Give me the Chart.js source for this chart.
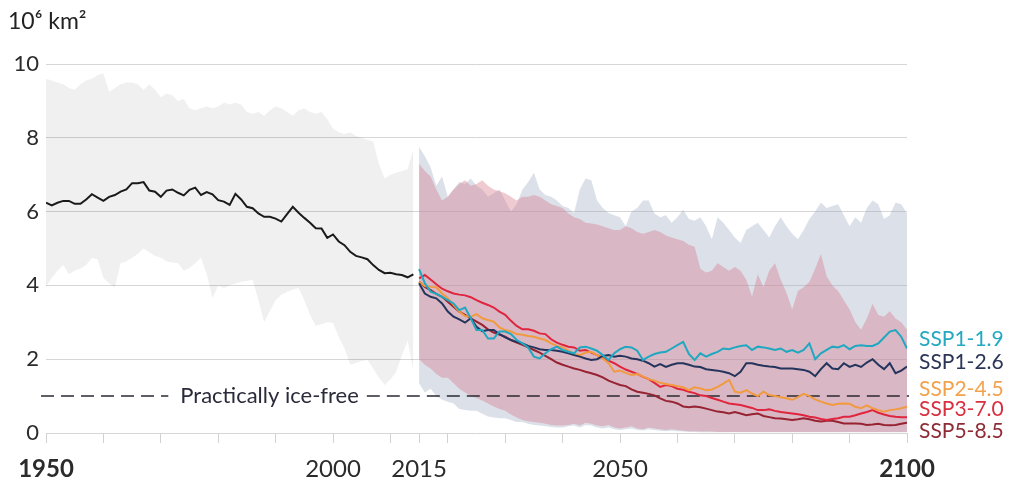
<!DOCTYPE html>
<html><head><meta charset="utf-8">
<script src="https://cdn.jsdelivr.net/npm/chart.js@4.4.0/dist/chart.umd.min.js"></script>
<style>html,body{margin:0;padding:0;background:#fff;}#wrap{width:1013px;height:484px;}</style>
</head><body><div id="wrap"><canvas id="c" width="1013" height="484"></canvas></div>
<script>
// ---- categories ----
const histYears = []; for (let y = 1950; y <= 2014; y++) histYears.push(y);
const projYears = []; for (let y = 2015; y <= 2100; y++) projYears.push(y);
const xTickYears = [1950,1960,1970,1980,1990,2000,2010,2015,2020,2030,2040,2050,2060,2070,2080,2090,2100];
const xLabelYears = [1950,2000,2015,2050,2100];
const xBoldYears = [1950,2100];
const yTicks = [0,2,4,6,8,10];
const unitLabel = '10\u2076 km\u00B2';
const iceFreeValue = 1;
const iceFreeText = 'Practically ice-free';

// ---- historical (1950-2014) ----
const histMean = [6.24,6.17,6.24,6.29,6.29,6.21,6.21,6.33,6.47,6.38,
 6.29,6.40,6.45,6.54,6.60,6.77,6.77,6.80,6.57,6.54,
 6.40,6.57,6.60,6.51,6.44,6.59,6.65,6.45,6.53,6.47,
 6.31,6.27,6.18,6.48,6.33,6.13,6.09,5.95,5.86,5.86,
 5.81,5.73,5.93,6.13,5.97,5.83,5.70,5.55,5.54,5.29,
 5.38,5.19,5.09,4.91,4.80,4.76,4.71,4.55,4.42,4.33,
 4.34,4.30,4.28,4.22,4.30];
const histUpper = [9.6,9.55,9.5,9.45,9.35,9.3,9.45,9.55,9.6,9.7,
 9.75,9.25,9.35,9.45,9.5,9.5,9.45,9.3,9.45,9.3,
 9.1,9.2,9.15,9.0,9.05,8.8,8.75,8.8,8.85,8.8,
 8.85,8.95,8.9,8.95,8.9,8.7,8.65,8.7,8.6,8.75,
 8.85,8.8,8.7,8.6,8.75,8.8,8.7,8.65,8.7,8.5,
 8.25,8.15,8.1,8.15,8.05,8.0,7.95,7.9,7.3,6.9,
 7.0,7.05,7.1,7.15,7.7];
const histLower = [3.96,4.2,4.4,4.55,4.3,4.4,4.45,4.55,4.75,4.7,
 4.2,4.05,3.95,4.6,4.65,4.75,4.85,5.0,4.9,4.8,
 4.75,4.65,4.62,4.6,4.4,4.47,4.6,4.75,4.3,3.65,
 4.0,3.93,4.0,4.05,4.1,4.12,4.15,3.6,3.0,3.3,
 3.6,3.75,3.82,3.88,3.93,3.6,3.2,2.9,2.95,3.0,
 2.98,2.6,2.3,1.85,1.9,1.95,1.98,1.75,1.5,1.3,
 1.45,1.65,2.1,2.5,1.7];

// ---- projections (2015-2100) ----
const ssp119 = [4.44,4.06,3.83,3.77,3.69,3.60,3.51,3.33,3.40,3.11,
 2.79,2.79,2.56,2.56,2.75,2.75,2.68,2.52,2.43,2.32,
 2.07,2.02,2.16,2.27,2.34,2.25,2.20,2.16,2.32,2.34,
 2.29,2.23,2.11,1.98,2.16,2.27,2.34,2.32,2.23,1.98,
 2.07,2.14,2.18,2.20,2.29,2.38,2.47,2.14,1.98,2.16,
 2.07,2.14,2.20,2.29,2.27,2.32,2.36,2.38,2.25,2.34,
 2.32,2.29,2.25,2.29,2.20,2.25,2.18,2.25,2.43,2.00,
 2.16,2.25,2.34,2.32,2.38,2.27,2.36,2.38,2.36,2.36,
 2.43,2.59,2.75,2.79,2.61,2.29];
const ssp126 = [4.06,3.78,3.69,3.65,3.51,3.29,3.15,3.08,2.99,3.11,
 2.88,2.76,2.79,2.79,2.68,2.59,2.52,2.47,2.43,2.36,
 2.32,2.27,2.25,2.25,2.23,2.20,2.16,2.11,2.07,2.02,
 1.98,2.00,2.09,2.11,2.07,2.09,2.07,2.02,2.00,1.96,
 1.89,1.80,1.87,1.79,1.85,1.89,1.89,1.85,1.80,1.79,
 1.73,1.71,1.69,1.66,1.62,1.54,1.66,1.89,1.89,1.85,
 1.82,1.80,1.79,1.75,1.75,1.75,1.73,1.71,1.66,1.54,
 1.73,1.89,1.75,1.73,1.89,1.79,1.85,1.79,1.91,2.00,
 1.85,1.73,1.89,1.62,1.69,1.80];
const ssp245 = [4.10,3.98,3.96,3.95,3.78,3.65,3.47,3.29,3.17,3.15,
 3.22,3.11,3.06,3.02,2.86,2.79,2.75,2.68,2.66,2.63,
 2.61,2.56,2.52,2.43,2.36,2.32,2.23,2.14,2.11,2.18,
 2.20,2.11,2.02,1.89,1.66,1.69,1.63,1.57,1.60,1.53,
 1.46,1.42,1.36,1.33,1.30,1.27,1.24,1.16,1.24,1.21,
 1.16,1.18,1.25,1.34,1.44,1.12,1.09,1.16,1.07,1.00,
 1.12,1.03,1.00,0.97,0.94,0.90,0.97,1.06,1.00,0.91,
 0.85,0.80,0.76,0.79,0.80,0.79,0.71,0.67,0.75,0.67,
 0.62,0.58,0.62,0.64,0.67,0.71];
const ssp370 = [4.19,4.28,4.16,4.03,3.91,3.84,3.78,3.75,3.73,3.68,
 3.60,3.53,3.47,3.40,3.29,3.20,3.04,2.90,2.81,2.81,
 2.77,2.70,2.68,2.54,2.45,2.39,2.34,2.32,2.23,2.25,
 2.18,2.11,2.04,1.96,1.89,1.80,1.72,1.66,1.60,1.52,
 1.46,1.36,1.25,1.30,1.27,1.20,1.17,1.12,1.08,1.02,
 1.00,0.95,0.90,0.85,0.80,0.78,0.76,0.72,0.68,0.62,
 0.62,0.64,0.60,0.57,0.55,0.53,0.51,0.48,0.44,0.42,
 0.38,0.35,0.38,0.40,0.44,0.44,0.48,0.53,0.57,0.62,
 0.55,0.50,0.46,0.44,0.43,0.43];
const ssp585 = [4.10,3.96,3.87,3.77,3.69,3.56,3.42,3.29,3.20,3.11,
 3.02,2.93,2.81,2.72,2.67,2.61,2.52,2.45,2.39,2.32,
 2.25,2.18,2.09,2.00,1.91,1.85,1.80,1.75,1.71,1.66,
 1.62,1.57,1.51,1.42,1.36,1.30,1.27,1.18,1.12,1.09,
 1.06,1.02,0.94,0.87,0.85,0.80,0.72,0.70,0.72,0.70,
 0.66,0.62,0.58,0.56,0.53,0.57,0.53,0.48,0.51,0.53,
 0.46,0.43,0.40,0.39,0.37,0.35,0.37,0.40,0.37,0.33,
 0.31,0.33,0.33,0.30,0.26,0.26,0.26,0.25,0.22,0.23,
 0.25,0.22,0.21,0.22,0.25,0.28];
// low-emission range (SSP1-2.6)
const lowUpper = [7.75,7.5,7.2,6.7,6.95,6.4,6.6,6.8,6.75,6.9,
 6.7,6.6,6.4,6.5,6.6,6.3,6.0,6.2,6.6,6.8,
 7.05,6.6,6.45,6.4,6.3,6.15,6.1,5.96,6.6,6.9,
 6.85,6.3,6.1,5.96,5.9,5.85,5.6,6.0,6.1,6.3,
 6.3,5.95,5.85,5.9,5.7,5.85,6.05,5.8,5.75,5.85,
 5.6,5.25,5.85,5.7,5.5,5.3,5.15,5.5,5.6,5.7,
 5.5,5.3,5.6,5.85,5.6,5.4,5.25,5.5,5.8,6.0,
 6.25,6.1,6.15,6.2,5.9,5.6,5.85,5.7,6.1,6.3,
 6.2,5.8,5.9,6.25,6.2,5.95];
const lowLower = [1.35,1.1,1.2,1.0,0.9,0.85,0.8,0.65,0.62,0.6,
 0.6,0.52,0.45,0.42,0.4,0.4,0.35,0.3,0.3,0.25,
 0.22,0.2,0.18,0.16,0.15,0.15,0.18,0.2,0.15,0.22,
 0.2,0.15,0.12,0.15,0.1,0.08,0.1,0.12,0.08,0.07,
 0.1,0.08,0.06,0.05,0.06,0.05,0.04,0.03,0.03,0.02,
 0.02,0.02,0.02,0.02,0.02,0.02,0.02,0.02,0.02,0.02,
 0.02,0.02,0.02,0.02,0.02,0.02,0.02,0.02,0.02,0.02,
 0.02,0.02,0.02,0.02,0.02,0.02,0.02,0.02,0.02,0.02,
 0.02,0.02,0.02,0.02,0.02,0.02];
// high-emission range (SSP3-7.0)
const highUpper = [7.3,7.1,6.95,6.6,6.3,6.4,6.6,6.75,6.85,6.7,
 6.75,6.85,6.7,6.6,6.55,6.5,6.4,6.3,6.4,6.4,
 6.45,6.4,6.3,6.2,6.15,6.1,5.95,5.85,5.8,5.7,
 5.68,5.65,5.6,5.55,5.5,5.5,5.6,5.55,5.45,5.4,
 5.45,5.5,5.45,5.35,5.3,5.25,5.2,5.1,5.05,4.45,
 4.35,4.4,4.6,4.5,4.4,4.5,4.4,4.15,3.7,4.3,
 3.95,4.4,4.6,4.15,3.8,3.35,3.85,3.95,4.1,4.45,
 4.85,4.25,4.0,3.85,3.6,3.35,3.0,2.8,3.1,3.5,
 3.2,3.15,3.3,3.1,3.0,2.8];
const highLower = [2.0,1.85,1.75,1.6,1.5,1.5,1.35,1.2,1.1,1.0,
 0.95,0.88,0.8,0.72,0.65,0.6,0.5,0.42,0.35,0.32,
 0.3,0.28,0.25,0.22,0.2,0.2,0.22,0.25,0.2,0.28,
 0.25,0.2,0.18,0.22,0.15,0.12,0.15,0.18,0.12,0.1,
 0.15,0.12,0.1,0.08,0.1,0.08,0.06,0.05,0.05,0.04,
 0.04,0.04,0.03,0.03,0.03,0.03,0.03,0.03,0.03,0.03,
 0.03,0.03,0.03,0.03,0.03,0.03,0.03,0.03,0.03,0.03,
 0.03,0.03,0.03,0.03,0.03,0.03,0.03,0.03,0.03,0.03,
 0.03,0.03,0.03,0.03,0.03,0.03];

const scenarioNames = ['SSP1-1.9','SSP1-2.6','SSP2-4.5','SSP3-7.0','SSP5-8.5'];
const scenarioSeries = [ssp119, ssp126, ssp245, ssp370, ssp585];
const scenarioColors = ['#1fa8c0','#25345c','#f29a3e','#e0253e','#962232'];
const labelColors = ['#22a9c1','#2b3557','#f3a24c','#d8303f','#8e2b36'];
const labelAt = [2.55, 1.91, 1.19, 0.65, 0.06];

const pts = (xs, ys) => xs.map((x, i) => ({x: x, y: ys[i]}));
const FONT = 'Lato, "Open Sans", sans-serif';

const datasets = [];
scenarioSeries.forEach((s, i) => datasets.push({
  label: scenarioNames[i], data: pts(projYears, s), borderColor: scenarioColors[i],
  borderWidth: 2, pointRadius: 0, fill: false, tension: 0
}));
datasets.push({label:'historical', data: pts(histYears, histMean), borderColor:'#1a1a1a', borderWidth:2, pointRadius:0, fill:false});
datasets.push({label:'highUpper', data: pts(projYears, highUpper), borderWidth:0, pointRadius:0, fill:'+1', backgroundColor:'rgba(214,122,140,0.40)'});
datasets.push({label:'highLower', data: pts(projYears, highLower), borderWidth:0, pointRadius:0, fill:false});
datasets.push({label:'lowUpper', data: pts(projYears, lowUpper), borderWidth:0, pointRadius:0, fill:'+1', backgroundColor:'rgba(150,163,190,0.34)'});
datasets.push({label:'lowLower', data: pts(projYears, lowLower), borderWidth:0, pointRadius:0, fill:false});
datasets.push({label:'histUpper', data: pts(histYears, histUpper), borderWidth:0, pointRadius:0, fill:'+1', backgroundColor:'rgba(0,0,0,0.058)'});
datasets.push({label:'histLower', data: pts(histYears, histLower), borderWidth:0, pointRadius:0, fill:false});
const BAND_TOP_INDEX = 6;

const decor = {
  id: 'decor',
  afterDatasetDraw(chart, args) {
    if (args.index !== BAND_TOP_INDEX) return;
    const ctx = chart.ctx, ca = chart.chartArea;
    const xs = chart.scales.x, ys = chart.scales.y;
    const y = ys.getPixelForValue(iceFreeValue);
    ctx.save();
    ctx.font = '22px ' + FONT;
    const tx = xs.getPixelForValue(1973.4);
    const tw = ctx.measureText(iceFreeText).width;
    ctx.strokeStyle = '#2a2a33';
    ctx.lineWidth = 1.5;
    ctx.setLineDash([13, 7]);
    ctx.beginPath();
    ctx.moveTo(ca.left - 5, y); ctx.lineTo(tx - 12, y);
    ctx.moveTo(tx + tw + 8, y); ctx.lineTo(ca.right + 2, y);
    ctx.stroke();
    ctx.setLineDash([]);
    ctx.fillStyle = '#2a2a3a';
    ctx.textBaseline = 'middle';
    ctx.fillText(iceFreeText, tx, y);
    ctx.restore();
  },
  afterDraw(chart) {
    const ctx = chart.ctx, ca = chart.chartArea, ys = chart.scales.y;
    ctx.save();
    ctx.fillStyle = '#222';
    ctx.font = '23px ' + FONT;
    ctx.textBaseline = 'middle';
    ctx.fillText(unitLabel, 8, 22);
    ctx.font = '21px ' + FONT;
    scenarioNames.forEach((n, i) => {
      ctx.fillStyle = labelColors[i];
      ctx.fillText(n, ca.right + 12, ys.getPixelForValue(labelAt[i]));
    });
    ctx.restore();
  }
};

new Chart(document.getElementById('c'), {
  type: 'line',
  data: { datasets },
  plugins: [decor],
  options: {
    responsive: false, animation: false, devicePixelRatio: 1,
    layout: { padding: { top: 64, right: 106, left: 0, bottom: 0 } },
    plugins: { legend: { display: false }, tooltip: { enabled: false }, filler: { propagate: false } },
    elements: { line: { tension: 0 } },
    scales: {
      x: {
        type: 'linear', min: 1950, max: 2100,
        afterFit(s) { s.height = 51; },
        afterBuildTicks(s) { s.ticks = xTickYears.map(v => ({ value: v })); },
        border: { display: false },
        grid: { drawOnChartArea: false, drawTicks: true, tickLength: 10, color: '#d2d2d2', lineWidth: 1 },
        ticks: {
          autoSkip: false, maxRotation: 0, padding: 12, color: '#2b2b2b',
          font: (c) => ({ family: FONT, size: 24, weight: (c.tick && xBoldYears.includes(c.tick.value)) ? 'bold' : 'normal' }),
          callback: (v) => xLabelYears.includes(v) ? String(v) : ''
        }
      },
      y: {
        min: 0, max: 10,
        afterFit(s) { s.width = 46; },
        afterBuildTicks(s) { s.ticks = yTicks.map(v => ({ value: v })); },
        border: { display: false },
        grid: { color: '#d6d6d6', lineWidth: 1, drawTicks: false },
        ticks: { padding: 7, color: '#2b2b2b', font: { family: FONT, size: 22 } }
      }
    }
  }
});
</script></body></html>
